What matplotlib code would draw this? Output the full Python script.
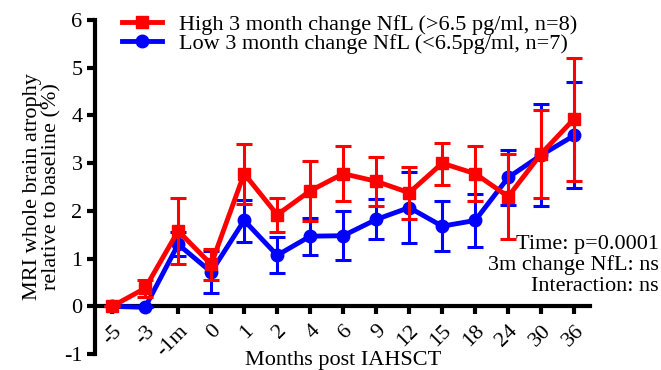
import matplotlib
matplotlib.use("Agg")
import matplotlib.pyplot as plt
from matplotlib.lines import Line2D
import numpy as np

plt.rcParams['font.family'] = ['Liberation Serif', 'DejaVu Serif']
plt.rcParams['axes.unicode_minus'] = False

months = ['-5', '-3', '-1m', '0', '1', '2', '4', '6', '9', '12', '15', '18', '24', '30', '36']

# high 3 month change NfL (>6.5 pg/ml)
high_mean = [0.0, 0.38, 1.58, 0.88, 2.78, 1.92, 2.42, 2.78, 2.62, 2.38, 3.0, 2.78, 2.3, 3.2, 3.93]
high_lo = [0.0, 0.2, 0.88, 0.55, 2.15, 1.55, 1.78, 2.2, 2.1, 1.83, 2.55, 2.2, 1.42, 2.28, 2.62]
high_hi = [0.0, 0.55, 2.28, 1.2, 3.4, 2.28, 3.05, 3.35, 3.12, 2.93, 3.43, 3.35, 3.2, 4.12, 5.2]

# low 3 month change NfL (<6.5 pg/ml)
low_mean = [0.0, -0.02, 1.3, 0.72, 1.8, 1.07, 1.47, 1.48, 1.82, 2.07, 1.68, 1.8, 2.7, 3.17, 3.58]
low_lo = [0.0, -0.02, 1.05, 0.28, 1.35, 0.7, 1.07, 0.97, 1.42, 1.33, 1.15, 1.25, 2.12, 2.1, 2.47]
low_hi = [0.0, -0.02, 1.55, 1.15, 2.23, 1.45, 1.85, 2.0, 2.25, 2.82, 2.2, 2.35, 3.28, 4.23, 4.7]

x = np.arange(len(months))

fig = plt.figure(figsize=(6.61, 3.70), dpi=100)
ax = fig.add_axes([0.1437, 0.043, 0.749, 0.903])

low_err = [np.array(low_mean) - np.array(low_lo), np.array(low_hi) - np.array(low_mean)]
high_err = [np.array(high_mean) - np.array(high_lo), np.array(high_hi) - np.array(high_mean)]

ax.errorbar(x, low_mean, yerr=low_err, color='#0000ff', lw=3.5, marker='o', ms=9,
            elinewidth=2.2, capsize=5.5, capthick=2.2, clip_on=False, zorder=3)
ax.errorbar(x, high_mean, yerr=high_err, color='#ff0000', lw=3.5, marker='s', ms=9,
            elinewidth=2.2, capsize=5.5, capthick=2.2, clip_on=False, zorder=4)

ax.set_xlim(-0.52, 14.48)
ax.set_ylim(-1, 6)
ax.set_yticks(range(-1, 7))
ax.set_xticks(x)

ax.spines['top'].set_visible(False)
ax.spines['right'].set_visible(False)
ax.spines['bottom'].set_position(('data', 0))
ax.spines['left'].set_linewidth(3)
ax.spines['bottom'].set_linewidth(3)
ax.tick_params(axis='both', width=3, length=6, labelsize=16)
ax.tick_params(axis='x', pad=5)
ax.tick_params(axis='y', pad=3)

ax.set_xticklabels(months)
plt.setp(ax.get_xticklabels(), rotation=45, ha='right', va='top', rotation_mode='anchor')

ax.set_ylabel('MRI whole brain atrophy\nrelative to baseline (%)', fontsize=16, labelpad=2,
              linespacing=1.0)
fig.text(0.519, 0.0, 'Months post IAHSCT', ha='center', va='bottom', fontsize=16)

handles = [
    Line2D([], [], color='#ff0000', lw=3.5, marker='s', ms=9),
    Line2D([], [], color='#0000ff', lw=3.5, marker='o', ms=9),
]
labels = ['High 3 month change NfL (>6.5 pg/ml, n=8)',
          'Low 3 month change NfL (<6.5pg/ml, n=7)']
fig.legend(handles, labels, loc='upper left', bbox_to_anchor=(122 / 661, 1 - 14 / 370),
           frameon=False, fontsize=16, handlelength=1.8, labelspacing=-0.05,
           handletextpad=0.75, borderpad=0, borderaxespad=0)

fig.text(0.997, 0.283, 'Time: p=0.0001\n3m change NfL: ns\nInteraction: ns', ha='right', va='center',
         fontsize=16, linespacing=1.12)

fig.savefig('out.png', dpi=100)
